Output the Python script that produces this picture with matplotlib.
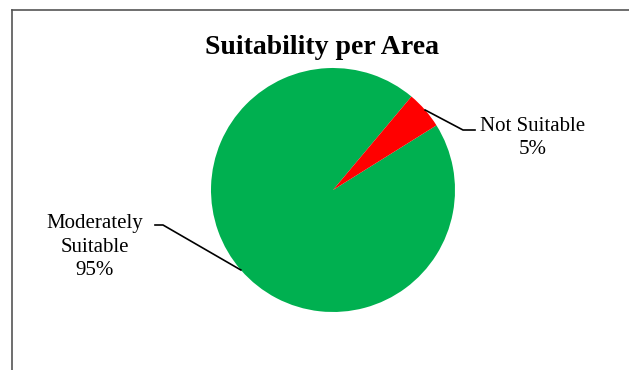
import numpy as np
import matplotlib
matplotlib.use("Agg")
import matplotlib.pyplot as plt
from matplotlib.lines import Line2D

labels = ["Moderately\nSuitable", "Not Suitable"]
shares = [95, 5]
colors = ["#00B050", "#FF0000"]
title = "Suitability per Area"

plt.rcParams['font.family'] = ['Liberation Serif', 'DejaVu Serif']

fig = plt.figure(figsize=(6.29, 3.7), dpi=100)
ax = fig.add_axes([0, 0, 1, 1])

cx, cy, r = 333, 180, 122
wedges, _ = ax.pie(shares, colors=colors, startangle=32, counterclock=False,
                   center=(cx, cy), radius=r, frame=True,
                   wedgeprops=dict(linewidth=0))
ax.set_xlim(0, 629)
ax.set_ylim(0, 370)
ax.set_aspect('equal')
ax.axis('off')

# chart frame (cropped on right and bottom)
fig.add_artist(Line2D([12/629, 12/629], [0, 1 - 10/370], color='#555555', lw=1.2))
fig.add_artist(Line2D([12/629, 1], [1 - 10/370, 1 - 10/370], color='#555555', lw=1.2))

ax.text(322, 322, title, ha='center', va='center', fontsize=20, fontweight='bold')

# leader lines and labels
label_pos = [(95, 123), (533, 232)]
elbows = [((163, 145), (155, 145)), ((463, 240), (475, 240))]
for w, lab, val, (tx, ty), (e1, e2) in zip(wedges, labels, shares, label_pos, elbows):
    mid = np.deg2rad((w.theta1 + w.theta2) / 2)
    ax_, ay_ = cx + r * np.cos(mid), cy + r * np.sin(mid)
    ax.plot([ax_, e1[0], e2[0]], [ay_, e1[1], e2[1]], color='black', lw=1.2)
    ax.text(tx, ty, f"{lab}\n{val}%", ha='center', va='center', fontsize=15,
            linespacing=1.32)

fig.savefig("out.png", dpi=100)
